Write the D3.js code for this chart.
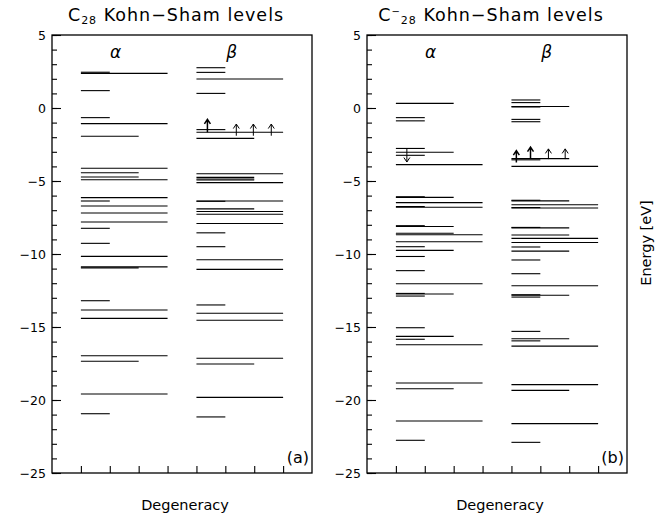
<!DOCTYPE html>
<html>
<head>
<meta charset="utf-8">
<script src="https://cdn.jsdelivr.net/npm/d3@7"></script>
<style>
  body { margin: 0; background: #fff; }
  text { font-family: "DejaVu Sans", sans-serif; fill: #000; }
</style>
</head>
<body>
<svg id="chart" width="663" height="516"></svg>
<script>
// levels: [energy in eV, degeneracy]
const c28Alpha = [
  [2.45, 1], [2.37, 3], [1.19, 1], [-0.66, 1], [-1.07, 3], [-1.94, 2],
  [-4.13, 3], [-4.43, 2], [-4.73, 2], [-4.91, 3], [-6.14, 3], [-6.37, 1],
  [-6.71, 3], [-7.19, 3], [-7.81, 3], [-8.24, 1], [-9.27, 1], [-10.16, 3],
  [-10.88, 3], [-10.95, 2], [-13.2, 1], [-13.84, 3], [-14.41, 3],
  [-16.97, 3], [-17.35, 2], [-19.59, 3], [-20.94, 1]
];
const c28Beta = [
  [2.76, 1], [2.44, 1], [1.99, 3], [1.0, 1], [-1.48, 1], [-1.66, 3],
  [-2.08, 2], [-4.5, 3], [-4.75, 2], [-4.86, 2], [-4.93, 2], [-5.11, 3],
  [-6.39, 1], [-6.37, 3], [-6.91, 2], [-7.09, 3], [-7.28, 3], [-7.91, 3],
  [-8.55, 1], [-9.5, 1], [-10.39, 3], [-11.05, 3], [-13.49, 1],
  [-14.06, 3], [-14.54, 3], [-17.14, 3], [-17.53, 2], [-19.82, 3],
  [-21.16, 1]
];
const c28mAlpha = [
  [0.32, 2], [-0.66, 1], [-0.88, 1], [-2.77, 1], [-3.03, 2], [-3.24, 1],
  [-3.88, 3], [-6.08, 1], [-6.12, 2], [-6.48, 3], [-6.75, 1], [-6.8, 3],
  [-8.06, 1], [-8.12, 2], [-8.58, 2], [-8.68, 3], [-9.16, 3], [-9.5, 1],
  [-9.75, 2], [-10.17, 1], [-11.14, 1], [-12.04, 3], [-12.7, 1],
  [-12.74, 2], [-12.88, 1], [-15.05, 1], [-15.64, 2], [-15.84, 1],
  [-16.22, 3], [-18.84, 3], [-19.23, 2], [-21.44, 3], [-22.76, 1]
];
const c28mBeta = [
  [0.55, 1], [0.37, 1], [0.07, 1], [0.1, 2], [-0.78, 1], [-0.94, 1],
  [-3.47, 2], [-3.55, 1], [-4.0, 3], [-6.32, 1], [-6.36, 2], [-6.63, 3],
  [-6.82, 1], [-6.85, 3], [-8.18, 1], [-8.21, 2], [-8.7, 2], [-8.93, 3],
  [-9.21, 3], [-9.52, 1], [-9.8, 2], [-10.41, 1], [-11.35, 1],
  [-12.17, 3], [-12.79, 1], [-12.83, 2], [-12.95, 1], [-15.3, 1],
  [-15.8, 2], [-15.95, 1], [-16.31, 3], [-18.95, 3], [-19.34, 2],
  [-21.62, 3], [-22.9, 1]
];
// spin arrows: [slot position, tail energy, head energy]
const c28Arrows = [[5.38, -1.66, -0.78], [6.38, -1.9, -1.1], [6.97, -1.9, -1.1], [7.59, -1.9, -1.1]];
const c28mArrows = [[1.38, -2.74, -3.7], [5.17, -3.74, -2.92], [5.66, -3.45, -2.68], [6.28, -3.5, -2.8], [6.86, -3.5, -2.8]];
const heavyArrows = [[0], [1, 2]]; // indices drawn bolder, per panel

const yTicks = [5, 0, -5, -10, -15, -20, -25];
const xTicks = [1, 2, 3, 4, 5, 6, 7, 8];
const alphaStart = 1, betaStart = 5;

const svg = d3.select("#chart");

function drawPanel(left, sup, alpha, beta, arrows, heavy, tag) {
  const x = d3.scaleLinear().domain([0, 9]).range([left, left + 260]);
  const y = d3.scaleLinear().domain([-25, 5]).range([473, 35]);
  const g = svg.append("g");

  // levels
  const levels = alpha.map((d) => ({ e: d[0], x0: alphaStart, x1: alphaStart + d[1] }))
    .concat(beta.map((d) => ({ e: d[0], x0: betaStart, x1: betaStart + d[1] })));
  g.selectAll(".level")
    .data(levels)
    .enter()
    .append("line")
    .attr("class", "level")
    .attr("x1", (d) => x(d.x0))
    .attr("x2", (d) => x(d.x1))
    .attr("y1", (d) => y(d.e))
    .attr("y2", (d) => y(d.e))
    .attr("stroke", "#000")
    .attr("stroke-width", 1.1);

  // arrows
  arrows.forEach((a, i) => {
    const ax = x(a[0]), ya = y(a[1]), yb = y(a[2]);
    const dir = yb < ya ? 1 : -1;
    const w = heavy.includes(i) ? 1.5 : 1;
    g.append("path")
      .attr("d", `M${ax},${ya}L${ax},${yb}M${ax - 3},${yb + dir * 4.5}L${ax},${yb}L${ax + 3},${yb + dir * 4.5}`)
      .attr("fill", "none")
      .attr("stroke", "#000")
      .attr("stroke-width", w);
  });

  // frame
  g.append("rect")
    .attr("x", left).attr("y", 35)
    .attr("width", 260).attr("height", 438)
    .attr("fill", "none")
    .attr("stroke", "#000")
    .attr("stroke-width", 1.3);

  // left axis, ticks inward
  g.append("g")
    .attr("transform", `translate(${left},0)`)
    .call(d3.axisLeft(y).tickValues(d3.range(-25, 6, 1)).tickSize(-5).tickFormat(""))
    .call((s) => s.select(".domain").remove());
  const ax = g.append("g")
    .attr("transform", `translate(${left},0)`)
    .call(d3.axisLeft(y).tickValues(yTicks).tickSize(-9).tickPadding(6))
    .call((s) => s.select(".domain").remove());
  ax.selectAll("text").attr("font-size", 12.5).attr("font-family", "DejaVu Sans");

  // bottom ticks
  g.append("g")
    .attr("transform", "translate(0,473)")
    .call(d3.axisBottom(x).tickValues(xTicks).tickSize(-7).tickFormat(""))
    .call((s) => s.select(".domain").remove());

  g.selectAll(".tick line").attr("stroke", "#000").attr("stroke-width", 1.1);

  // labels
  g.append("text").attr("x", x(2.2)).attr("y", 58)
    .attr("text-anchor", "middle").attr("font-size", 17).attr("font-style", "italic")
    .text("α");
  g.append("text").attr("x", x(6.22)).attr("y", 58)
    .attr("text-anchor", "middle").attr("font-size", 17).attr("font-style", "italic")
    .text("β");
  g.append("text").attr("x", left + 257).attr("y", 463)
    .attr("text-anchor", "end").attr("font-size", 16)
    .text(tag);

  const t = g.append("text").attr("x", left + 124).attr("y", 21)
    .attr("text-anchor", "middle").attr("font-size", 17.5)
    .attr("letter-spacing", 1);
  t.append("tspan").text("C");
  if (sup) t.append("tspan").attr("font-size", 10).attr("dy", -6).text(sup);
  t.append("tspan").attr("font-size", 11).attr("dy", sup ? 9 : 3).text("28");
  t.append("tspan").attr("dy", -3).text(" Kohn−Sham levels");

  g.append("text").attr("x", left + 133).attr("y", 510)
    .attr("text-anchor", "middle").attr("font-size", 14.5)
    .text("Degeneracy");
}

drawPanel(52, null, c28Alpha, c28Beta, c28Arrows, heavyArrows[0], "(a)");
drawPanel(367, "−", c28mAlpha, c28mBeta, c28mArrows, heavyArrows[1], "(b)");

svg.append("text")
  .attr("transform", "translate(651,243) rotate(-90)")
  .attr("text-anchor", "middle")
  .attr("font-size", 14.5)
  .text("Energy [eV]");
</script>
</body>
</html>
